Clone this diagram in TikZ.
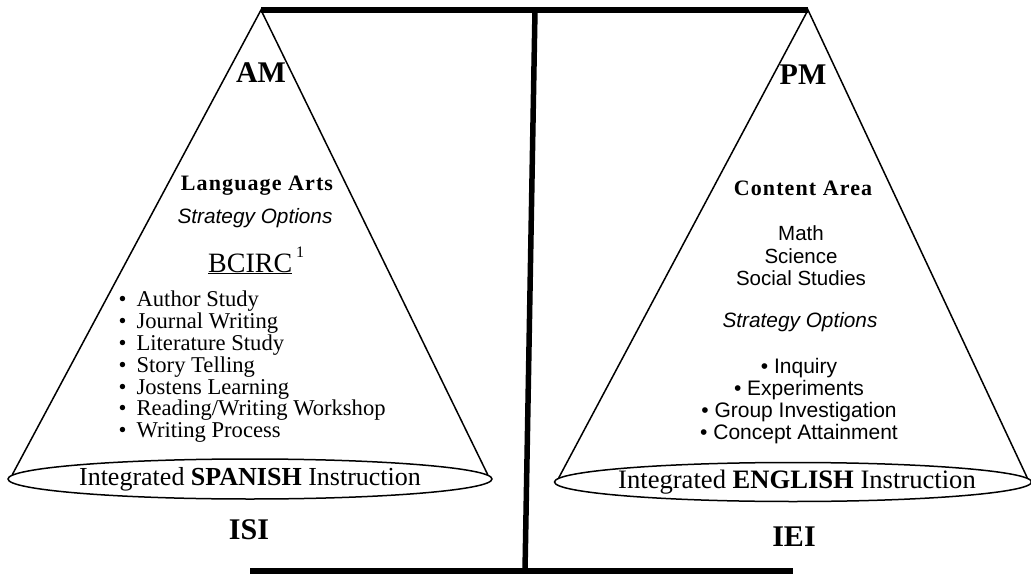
\documentclass[tikz,border=0pt]{standalone}
\usepackage{fontspec}
\setmainfont{Liberation Serif}
\newfontfamily\optfont{Liberation Sans}
\newfontfamily\wideserif[LetterSpace=5]{Liberation Serif}
\usetikzlibrary{shapes.geometric, positioning}

\begin{document}
\begin{tikzpicture}[
    x=1pt, y=-1pt,
    beam/.style={line width=5.5pt},
    side/.style={line width=1.5pt},
    rim/.style={ellipse, draw, line width=1.5pt, inner sep=0pt},
    rimtext/.style={font=\fontsize{26}{26}\selectfont, inner sep=0pt},
    period/.style={font=\fontsize{30}{30}\selectfont\bfseries},
    subject/.style={font=\wideserif\fontsize{22}{22}\selectfont\bfseries},
    strategy/.style={font=\optfont\itshape\fontsize{20.8}{20.8}\selectfont},
    areas/.style={font=\optfont\fontsize{20.5}{22.5}\selectfont, align=center, inner sep=0pt},
    entries/.style={font=\fontsize{22.6}{21.8}\selectfont, align=left, inner sep=0pt},
    program/.style={font=\fontsize{30}{30}\selectfont\bfseries}
  ]
  \useasboundingbox (0,0) rectangle (1031,575);
  % balance frame
  \coordinate (apexL) at (261,10);
  \coordinate (apexR) at (808,10);
  \coordinate (postT) at (535,10);
  \coordinate (postB) at (525,571);
  \coordinate (footL) at (250,571);
  \coordinate (footR) at (793,571);
  \draw[beam] (apexL) -- (apexR);
  \draw[beam] (postT) -- (postB);
  \draw[beam] (footL) -- (footR);

  % left pan: morning
  \node[rim, minimum width=484pt, minimum height=40pt] (rimL) at (250,479) {};
  \node[rimtext] (spanish) at (rimL) {Integrated \textbf{SPANISH} Instruction};
  \draw[side] (rimL.179) -- (apexL) -- (rimL.1);
  \node[period] (am) at (261,73) {AM};
  \node[subject] (langarts) at (257,186) {Language Arts};
  \node[strategy] (optsL) at (255,218) {Strategy Options};
  \node[font=\fontsize{28}{28}\selectfont, anchor=base west, inner sep=0pt] (bcirc) at (208,272)
    {\underline{BCIRC}\hspace{4pt}\raisebox{15pt}{\fontsize{16}{16}\selectfont 1}};
  \node[entries, anchor=north west] (listL) at (118.5,291) {%
    \textbullet\hspace{10pt}Author Study\\
    \textbullet\hspace{10pt}Journal Writing\\
    \textbullet\hspace{10pt}Literature Study\\
    \textbullet\hspace{10pt}Story Telling\\
    \textbullet\hspace{10pt}Jostens Learning\\
    \textbullet\hspace{10pt}Reading/Writing Workshop\\
    \textbullet\hspace{10pt}Writing Process};
  \node[program] (isi) at (249,530) {ISI};

  % right pan: afternoon
  \node[rim, minimum width=477pt, minimum height=39pt] (rimR) at (793,482) {};
  \node[rimtext, font=\fontsize{26.6}{26.6}\selectfont] (english) at ([xshift=4pt]rimR) {Integrated \textbf{ENGLISH} Instruction};
  \draw[side] (rimR.179) -- (apexR) -- (rimR.1);
  \node[period] (pm) at (803,75) {PM};
  \node[subject] (content) at (803,188) {Content Area};
  \node[areas, anchor=north] (subjects) at (801,225.5) {Math\\Science\\Social Studies};
  \node[strategy] (optsR) at (800,322) {Strategy Options};
  \node[areas, font=\optfont\fontsize{21}{22}\selectfont, anchor=north] (listR) at (799,358) {%
    \textbullet\ Inquiry\\
    \textbullet\ Experiments\\
    \textbullet\ Group Investigation\\
    \textbullet\ Concept Attainment};
  \node[program] (iei) at (794,537) {IEI};
\end{tikzpicture}
\end{document}
